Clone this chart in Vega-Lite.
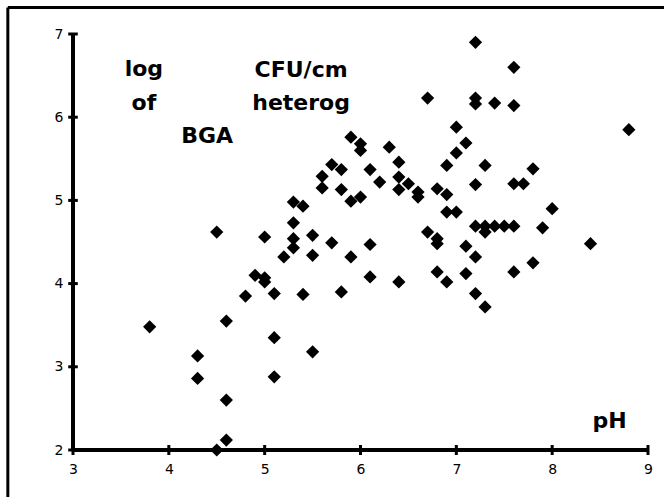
{
  "$schema": "https://vega.github.io/schema/vega-lite/v6.json",
  "width": 575,
  "height": 416,
  "autosize": {"type": "none"},
  "padding": {"left": 73, "top": 34, "right": 16, "bottom": 47},
  "background": "white",
  "config": {
    "view": {"stroke": null},
    "axis": {"domain": false, "ticks": false, "grid": false}
  },
  "datasets": {
    "points": [
      {"pH": 3.8, "logBGA": 3.48}, {"pH": 4.3, "logBGA": 3.13}, {"pH": 4.3, "logBGA": 2.86},
      {"pH": 4.5, "logBGA": 4.62}, {"pH": 4.5, "logBGA": 2.0}, {"pH": 4.6, "logBGA": 3.55},
      {"pH": 4.6, "logBGA": 2.6}, {"pH": 4.6, "logBGA": 2.12}, {"pH": 4.8, "logBGA": 3.85},
      {"pH": 4.9, "logBGA": 4.1}, {"pH": 5.0, "logBGA": 4.07}, {"pH": 5.0, "logBGA": 4.02},
      {"pH": 5.0, "logBGA": 4.56}, {"pH": 5.1, "logBGA": 3.88}, {"pH": 5.1, "logBGA": 3.35},
      {"pH": 5.1, "logBGA": 2.88}, {"pH": 5.2, "logBGA": 4.32}, {"pH": 5.3, "logBGA": 4.98},
      {"pH": 5.3, "logBGA": 4.73}, {"pH": 5.3, "logBGA": 4.54}, {"pH": 5.3, "logBGA": 4.43},
      {"pH": 5.4, "logBGA": 4.93}, {"pH": 5.4, "logBGA": 3.87}, {"pH": 5.5, "logBGA": 4.58},
      {"pH": 5.5, "logBGA": 4.34}, {"pH": 5.5, "logBGA": 3.18}, {"pH": 5.6, "logBGA": 5.29},
      {"pH": 5.6, "logBGA": 5.15}, {"pH": 5.7, "logBGA": 5.43}, {"pH": 5.7, "logBGA": 4.49},
      {"pH": 5.8, "logBGA": 5.37}, {"pH": 5.8, "logBGA": 5.13}, {"pH": 5.8, "logBGA": 3.9},
      {"pH": 5.9, "logBGA": 5.76}, {"pH": 5.9, "logBGA": 4.99}, {"pH": 5.9, "logBGA": 4.32},
      {"pH": 6.0, "logBGA": 5.68}, {"pH": 6.0, "logBGA": 5.6}, {"pH": 6.0, "logBGA": 5.04},
      {"pH": 6.1, "logBGA": 5.37}, {"pH": 6.1, "logBGA": 4.47}, {"pH": 6.1, "logBGA": 4.08},
      {"pH": 6.2, "logBGA": 5.22}, {"pH": 6.3, "logBGA": 5.64}, {"pH": 6.4, "logBGA": 5.46},
      {"pH": 6.4, "logBGA": 5.28}, {"pH": 6.4, "logBGA": 5.13}, {"pH": 6.4, "logBGA": 4.02},
      {"pH": 6.5, "logBGA": 5.2}, {"pH": 6.6, "logBGA": 5.1}, {"pH": 6.6, "logBGA": 5.04},
      {"pH": 6.7, "logBGA": 6.23}, {"pH": 6.7, "logBGA": 4.62}, {"pH": 6.8, "logBGA": 5.14},
      {"pH": 6.8, "logBGA": 4.54}, {"pH": 6.8, "logBGA": 4.48}, {"pH": 6.8, "logBGA": 4.14},
      {"pH": 6.9, "logBGA": 5.42}, {"pH": 6.9, "logBGA": 5.07}, {"pH": 6.9, "logBGA": 4.86},
      {"pH": 6.9, "logBGA": 4.02}, {"pH": 7.0, "logBGA": 5.88}, {"pH": 7.0, "logBGA": 5.57},
      {"pH": 7.0, "logBGA": 4.86}, {"pH": 7.1, "logBGA": 5.69}, {"pH": 7.1, "logBGA": 4.45},
      {"pH": 7.1, "logBGA": 4.12}, {"pH": 7.2, "logBGA": 6.9}, {"pH": 7.2, "logBGA": 6.23},
      {"pH": 7.2, "logBGA": 6.16}, {"pH": 7.2, "logBGA": 5.19}, {"pH": 7.2, "logBGA": 4.69},
      {"pH": 7.2, "logBGA": 4.32}, {"pH": 7.2, "logBGA": 3.88}, {"pH": 7.3, "logBGA": 5.42},
      {"pH": 7.3, "logBGA": 4.69}, {"pH": 7.3, "logBGA": 4.62}, {"pH": 7.3, "logBGA": 3.72},
      {"pH": 7.4, "logBGA": 6.17}, {"pH": 7.4, "logBGA": 4.69}, {"pH": 7.5, "logBGA": 4.69},
      {"pH": 7.6, "logBGA": 6.6}, {"pH": 7.6, "logBGA": 6.14}, {"pH": 7.6, "logBGA": 5.2},
      {"pH": 7.6, "logBGA": 4.69}, {"pH": 7.6, "logBGA": 4.14}, {"pH": 7.7, "logBGA": 5.2},
      {"pH": 7.8, "logBGA": 5.38}, {"pH": 7.8, "logBGA": 4.25}, {"pH": 7.9, "logBGA": 4.67},
      {"pH": 8.0, "logBGA": 4.9}, {"pH": 8.4, "logBGA": 4.48}, {"pH": 8.8, "logBGA": 5.85}
    ],
    "labels": [
      {"pH": 3.74, "logBGA": 6.5, "text": "log"},
      {"pH": 3.74, "logBGA": 6.09, "text": "of"},
      {"pH": 4.4, "logBGA": 5.69, "text": "BGA"},
      {"pH": 5.38, "logBGA": 6.48, "text": "CFU/cm"},
      {"pH": 5.38, "logBGA": 6.09, "text": "heterog"},
      {"pH": 8.6, "logBGA": 2.26, "text": "pH"}
    ],
    "xticks": [{"v": 3}, {"v": 4}, {"v": 5}, {"v": 6}, {"v": 7}, {"v": 8}, {"v": 9}],
    "yticks": [{"v": 2}, {"v": 3}, {"v": 4}, {"v": 5}, {"v": 6}, {"v": 7}],
    "frame": [{"id": 1}]
  },
  "layer": [
    {
      "data": {"name": "frame"},
      "mark": {"type": "rule", "color": "black", "strokeWidth": 4, "clip": false},
      "encoding": {
        "x": {"datum": 3, "type": "quantitative", "scale": {"domain": [3, 9], "nice": false, "zero": false}},
        "x2": {"datum": 9},
        "y": {"datum": 2, "type": "quantitative", "scale": {"domain": [2, 7], "nice": false, "zero": false}}
      }
    },
    {
      "data": {"name": "frame"},
      "mark": {"type": "rule", "color": "black", "strokeWidth": 4, "clip": false},
      "encoding": {
        "x": {"datum": 3, "type": "quantitative"},
        "y": {"datum": 2, "type": "quantitative"},
        "y2": {"datum": 7}
      }
    },
    {
      "data": {"name": "xticks"},
      "mark": {"type": "rule", "color": "black", "strokeWidth": 3, "clip": false},
      "encoding": {
        "x": {"field": "v", "type": "quantitative"},
        "y": {"datum": 1.94, "type": "quantitative"},
        "y2": {"datum": 2.06}
      }
    },
    {
      "data": {"name": "yticks"},
      "mark": {"type": "rule", "color": "black", "strokeWidth": 3, "clip": false},
      "encoding": {
        "y": {"field": "v", "type": "quantitative"},
        "x": {"datum": 2.95, "type": "quantitative"},
        "x2": {"datum": 3.05}
      }
    },
    {
      "data": {"name": "frame"},
      "mark": {"type": "rule", "color": "black", "strokeWidth": 3, "clip": false},
      "encoding": {
        "x": {"datum": 2.32, "type": "quantitative"},
        "y": {"datum": 1.3, "type": "quantitative"},
        "y2": {"datum": 7.32}
      }
    },
    {
      "data": {"name": "frame"},
      "mark": {"type": "rule", "color": "black", "strokeWidth": 3, "clip": false},
      "encoding": {
        "x": {"datum": 2.32, "type": "quantitative"},
        "x2": {"datum": 9.3},
        "y": {"datum": 7.32, "type": "quantitative"}
      }
    },
    {
      "data": {"name": "points"},
      "mark": {"type": "point", "shape": "diamond", "filled": true, "color": "black", "size": 175, "opacity": 1},
      "encoding": {
        "x": {
          "field": "pH", "type": "quantitative",
          "axis": {
            "title": null, "values": [3, 4, 5, 6, 7, 8, 9], "format": "d",
            "labelFont": "DejaVu Sans", "labelFontSize": 14, "labelColor": "black", "labelPadding": 12,
            "labelFlush": false, "labelOverlap": false
          }
        },
        "y": {
          "field": "logBGA", "type": "quantitative",
          "axis": {
            "title": null, "values": [2, 3, 4, 5, 6, 7], "format": "d",
            "labelFont": "DejaVu Sans", "labelFontSize": 14, "labelColor": "black", "labelPadding": 10,
            "labelFlush": false, "labelOverlap": false
          }
        }
      }
    },
    {
      "data": {"name": "labels"},
      "mark": {"type": "text", "font": "DejaVu Sans", "fontWeight": "bold", "fontSize": 22, "color": "black", "align": "center", "baseline": "alphabetic"},
      "encoding": {
        "x": {"field": "pH", "type": "quantitative"},
        "y": {"field": "logBGA", "type": "quantitative"},
        "text": {"field": "text", "type": "nominal"}
      }
    }
  ]
}
